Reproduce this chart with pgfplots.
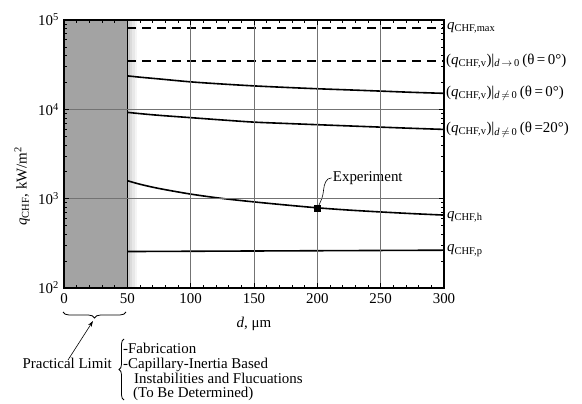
\documentclass[border=0pt]{standalone}
\usepackage{fontspec}
\setmainfont{Liberation Serif}
\usepackage{pgfplots}
\pgfplotsset{compat=1.18}
\usetikzlibrary{decorations.pathreplacing,arrows.meta}
\newcommand{\qs}[1]{\textit{q}\textsubscript{#1}}
\begin{document}
\fontsize{15}{17}\selectfont
\begin{tikzpicture}
\begin{axis}[name=ax, scale only axis, width=380bp, height=268bp,
  xmin=0, xmax=300, ymode=log, ymin=100, ymax=100000,
  xtick={0,50,...,300}, minor x tick num=4,
  ytick={100,1000,10000,100000},
  yticklabels={10\textsuperscript{2},10\textsuperscript{3},10\textsuperscript{4},10\textsuperscript{5}},
  /pgf/number format/assume math mode=true,
  ymajorgrids=true, xmajorgrids=false,
  extra x ticks={100,150,200,250}, extra x tick labels={},
  extra x tick style={xmajorgrids=true},
  major grid style={black!55, line width=0.6bp},
  axis on top, clip=false,
  axis line style={line width=1.3bp},
  major tick length=5bp, minor tick length=3bp,
  every tick/.style={black, line width=0.7bp},
  xlabel={\textit{d}, μm},
  ylabel={\qs{CHF}, kW/m\textsuperscript{2}},
  xlabel style={at={(axis description cs:0.5,-0.134)}, anchor=center},
  ylabel style={at={(axis description cs:-0.11,0.38)}, anchor=center},
]
% shaded practical-limit region
\addplot[draw=none, fill=black!36] coordinates {(0,100)(0,100000)(50,100000)(50,100)};
\addplot[draw=none, fill=black!20] coordinates {(50,100)(50,100000)(52,100000)(52,100)};
\addplot[draw=none, fill=black!14] coordinates {(52,100)(52,100000)(54,100000)(54,100)};
\addplot[draw=none, fill=black!9] coordinates {(54,100)(54,100000)(56,100000)(56,100)};
\addplot[draw=none, fill=black!4] coordinates {(56,100)(56,100000)(58,100000)(58,100)};
\addplot[black, line width=0.8bp] coordinates {(50,100)(50,100000)};
% q_CHF,max
\addplot[black, line width=1.8bp, dash pattern=on 9bp off 6bp] coordinates {(50,82000)(300,82000)};
% q_CHF,v d->0
\addplot[black, line width=1.8bp, dash pattern=on 9bp off 6bp] coordinates {(50,34800)(300,34800)};
% q_CHF,v d!=0 theta=0
\addplot[black, line width=1.6bp, smooth] coordinates {(50,23700)(60,22900)(75,21900)(100,20300)(125,19200)(150,18300)(175,17600)(200,17000)(225,16500)(250,16000)(275,15500)(300,15100)};
% q_CHF,v d!=0 theta=20
\addplot[black, line width=1.6bp, smooth] coordinates {(50,9250)(60,8950)(75,8570)(100,8070)(125,7600)(150,7190)(175,6950)(200,6730)(225,6520)(250,6320)(275,6130)(300,5960)};
% q_CHF,h
\addplot[black, line width=1.6bp, smooth] coordinates {(50,1590)(60,1450)(75,1300)(100,1125)(125,1005)(150,920)(175,850)(200,790)(225,745)(250,710)(275,680)(300,655)};
% q_CHF,p
\addplot[black, line width=1.6bp] coordinates {(50,256)(300,265)};
% experiment
\addplot[only marks, mark=square*, mark size=3.3bp, black] coordinates {(200,785)};
\draw[line width=0.6bp] (axis cs:201,830) to[out=65,in=-95] ++(5bp,16bp) to[out=85,in=180] ++(8bp,12bp) node[anchor=west, inner sep=1bp] {Experiment};
% right labels
\node[anchor=west, inner sep=0pt, xshift=3bp] at (axis cs:300,82000) {\qs{CHF,max}};
\node[anchor=west, inner sep=0pt, xshift=2bp] at (axis cs:300,34800) {(\qs{CHF,v})|\textsubscript{\textit{d}\,$\rightarrow$\,0}\,(θ\,=\,0°)};
\node[anchor=west, inner sep=0pt, xshift=2bp] at (axis cs:300,15100) {(\qs{CHF,v})|\textsubscript{\textit{d}\,$\neq$\,0}\,(θ\,=\,0°)};
\node[anchor=west, inner sep=0pt, xshift=2bp] at (axis cs:300,5900) {(\qs{CHF,v})|\textsubscript{\textit{d}\,$\neq$\,0}\,(θ\,=20°)};
\node[anchor=west, inner sep=0pt, xshift=3bp] at (axis cs:300,630) {\qs{CHF,h}};
\node[anchor=west, inner sep=0pt, xshift=3bp] at (axis cs:300,262) {\qs{CHF,p}};
\end{axis}
% lower annotation
\begin{scope}[shift={(ax.south west)}]
\draw[line width=0.8bp, decorate, decoration={brace, mirror, amplitude=6bp}] (-1bp,-24bp) -- (62bp,-24bp);
\draw[line width=0.6bp, -{Stealth[length=6bp,width=4bp]}] (4bp,-72bp) -- (29bp,-33bp);
\node[anchor=base east, inner sep=0pt] at (48bp,-80bp) {Practical Limit};
\draw[line width=0.8bp, decorate, decoration={brace, amplitude=5bp}] (60bp,-112bp) -- (60bp,-51bp);
\node[anchor=base west, inner sep=0pt] at (59bp,-65bp) {-Fabrication};
\node[anchor=base west, inner sep=0pt] at (59bp,-80bp) {-Capillary-Inertia Based};
\node[anchor=base west, inner sep=0pt] at (70bp,-95bp) {Instabilities and Flucuations};
\node[anchor=base west, inner sep=0pt] at (69bp,-109bp) {(To Be Determined)};
\end{scope}
\pgfresetboundingbox
\path[use as bounding box] ([shift={(-64bp,-116bp)}]ax.south west) rectangle ([shift={(518bp,288bp)}]ax.south west);
\end{tikzpicture}
\end{document}
